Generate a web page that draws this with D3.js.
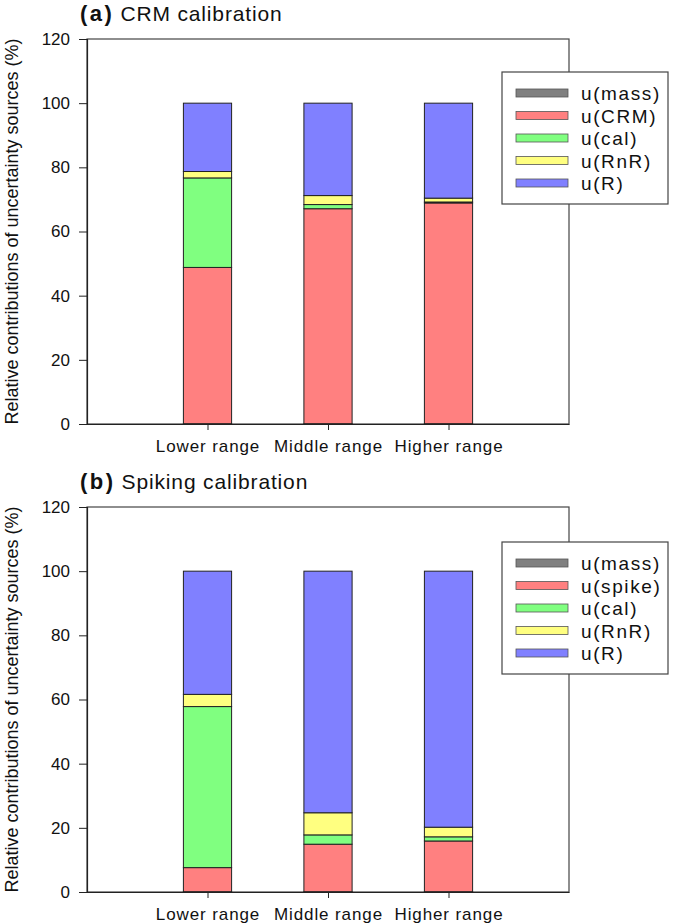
<!DOCTYPE html>
<html>
<head>
<meta charset="utf-8">
<script src="https://cdn.jsdelivr.net/npm/d3@7"></script>
<style>
  body { margin: 0; background: #fff; }
  svg { display: block; font-family: "Liberation Sans", Arial, sans-serif; }
</style>
</head>
<body>
<svg id="chart" width="685" height="923"></svg>
<script>
// ---- data ----
const categories = ["Lower range", "Middle range", "Higher range"];
const yTicks = [0, 20, 40, 60, 80, 100, 120];
const seriesNamesA = ["u(mass)", "u(CRM)", "u(cal)", "u(RnR)", "u(R)"];
const seriesNamesB = ["u(mass)", "u(spike)", "u(cal)", "u(RnR)", "u(R)"];
const seriesColors = ["#808080", "#FF8080", "#80FF80", "#FFFF80", "#8080FF"];

// (a) CRM calibration
const massA = [0.1, 0.1, 0.1];
const crmA  = [48.7, 67.0, 68.8];
const calA  = [27.9, 1.3, 0.3];
const rnrA  = [2.0, 2.8, 1.2];
const rA    = [21.3, 28.8, 29.6];

// (b) Spiking calibration
const massB  = [0.1, 0.1, 0.1];
const spikeB = [7.5, 14.8, 15.8];
const calB   = [50.2, 2.9, 1.3];
const rnrB   = [3.8, 6.9, 3.0];
const rB     = [38.4, 75.3, 79.8];

const svg = d3.select("#chart");

function drawPanel(opts) {
  const { top, bottom, left, right, label, title, names, values, legendTop } = opts;
  const g = svg.append("g");

  const x = d3.scalePoint().domain(categories).range([left, right]).padding(1);
  const y = d3.scaleLinear().domain([0, 120]).range([bottom, top]);
  const barW = x.step() * 0.4;

  // data table
  const rows = categories.map((c, i) => {
    const o = { cat: c };
    names.forEach((n, k) => { o[n] = values[k][i]; });
    return o;
  });
  const stacked = d3.stack().keys(names)(rows);

  // frame
  g.append("rect")
    .attr("x", left).attr("y", top)
    .attr("width", right - left).attr("height", bottom - top)
    .attr("fill", "none").attr("stroke", "#444").attr("stroke-width", 1.2);

  // bars
  stacked.forEach((s, k) => {
    g.append("g").selectAll("rect").data(s).join("rect")
      .attr("x", d => x(d.data.cat) - barW / 2)
      .attr("width", barW)
      .attr("y", d => y(d[1]))
      .attr("height", d => Math.max(0, y(d[0]) - y(d[1])))
      .attr("fill", seriesColors[k])
      .attr("stroke", "#222")
      .attr("stroke-width", 1);
  });

  // y axis
  const ya = g.append("g").attr("transform", `translate(${left},0)`)
    .call(d3.axisLeft(y).tickValues(yTicks).tickSize(8).tickPadding(9).tickFormat(d3.format("d")));
  ya.select(".domain").attr("stroke", "#222").attr("stroke-width", 1.2);
  ya.selectAll(".tick line").attr("stroke", "#222");
  ya.selectAll("text").attr("font-size", 17).attr("fill", "#111")
    .attr("font-family", "'Liberation Sans', Arial, sans-serif");

  // x axis
  const xa = g.append("g").attr("transform", `translate(0,${bottom})`)
    .call(d3.axisBottom(x).tickSize(6).tickPadding(10).tickSizeOuter(0));
  xa.select(".domain").attr("stroke", "#222").attr("stroke-width", 1.2);
  xa.selectAll(".tick line").attr("stroke", "#222");
  xa.selectAll("text").attr("font-size", 17).attr("fill", "#111")
    .attr("letter-spacing", "0.9px")
    .attr("font-family", "'Liberation Sans', Arial, sans-serif");

  // y axis title
  g.append("text")
    .attr("transform", `translate(18,${(top + bottom) / 2}) rotate(-90)`)
    .attr("text-anchor", "middle")
    .attr("font-size", 18).attr("fill", "#111")
    .text("Relative contributions of uncertainty sources (%)");

  // panel title
  const t = g.append("text").attr("x", 80).attr("y", top - 18).attr("fill", "#111");
  t.append("tspan").attr("font-weight", "bold").attr("font-size", 22).attr("letter-spacing", "2.5px").text(label);
  t.append("tspan").attr("dx", 6).attr("font-size", 21).attr("letter-spacing", "0.85px").text(title);

  // legend
  const lx = 502, lw = 166, lh = 132;
  const lg = g.append("g");
  lg.append("rect").attr("x", lx).attr("y", legendTop).attr("width", lw).attr("height", lh)
    .attr("fill", "#fff").attr("stroke", "#444").attr("stroke-width", 1.2);
  names.forEach((n, k) => {
    const cy = legendTop + 21 + k * 22.5;
    lg.append("rect").attr("x", 516).attr("y", cy - 4).attr("width", 52).attr("height", 8)
      .attr("fill", seriesColors[k]).attr("stroke", "#555").attr("stroke-width", 0.8);
    lg.append("text").attr("x", 581).attr("y", cy + 7)
      .attr("font-size", 19).attr("letter-spacing", "1.6px").attr("fill", "#111").text(n);
  });
}

drawPanel({
  top: 39, bottom: 424, left: 87, right: 569,
  label: "(a)", title: "CRM calibration",
  names: seriesNamesA, values: [massA, crmA, calA, rnrA, rA],
  legendTop: 72
});

drawPanel({
  top: 507, bottom: 892, left: 87, right: 569,
  label: "(b)", title: "Spiking calibration",
  names: seriesNamesB, values: [massB, spikeB, calB, rnrB, rB],
  legendTop: 542
});
</script>
</body>
</html>
